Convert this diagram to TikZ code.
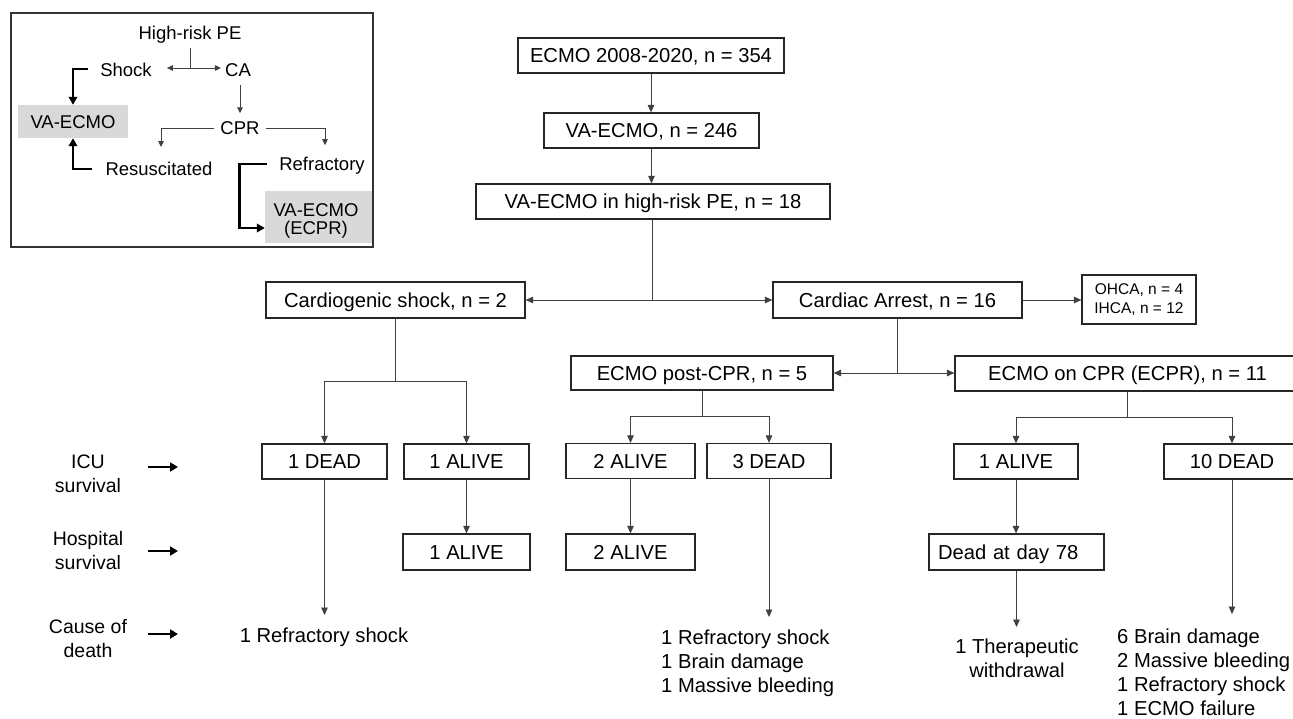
\documentclass[tikz,border=0pt]{standalone}
\usepackage{fontspec}
\setmainfont{Liberation Sans}
\usetikzlibrary{arrows.meta,calc}
\begin{document}
\begin{tikzpicture}[x=1pt,y=-1pt,
  box/.style={draw=black!85, line width=1.2pt, fill=white, inner sep=0pt,
    font=\fontsize{20.2}{24}\selectfont, text height=15pt, text depth=1pt},
  mbox/.style={draw=black!85, line width=1.2pt, fill=white, inner sep=0pt, align=center},
  txt/.style={inner sep=0pt, font=\fontsize{20.2}{24}\selectfont},
  lbl/.style={inner sep=0pt, align=center, font=\fontsize{19.5}{24}\selectfont},
  itxt/.style={inner sep=0pt, font=\fontsize{18.5}{21.5}\selectfont},
  gbox/.style={fill=black!15, inner sep=0pt},
  gtxt/.style={inner sep=0pt, align=center, font=\fontsize{18.5}{18}\selectfont},
  conn/.style={draw=black!75, line width=0.9pt},
  arr/.style={conn, -{Triangle[length=7.5pt,width=6.5pt]}},
  iarr/.style={conn, -{Triangle[length=6pt,width=5.5pt]}},
  thk/.style={draw=black, line width=2.8pt, -{Triangle[length=8pt,width=8.5pt]}},
  labarr/.style={draw=black, line width=2.8pt, -{Triangle[length=8pt,width=9pt]}}
]
\useasboundingbox (0,0) rectangle (1293,718);

% ---------- inset ----------
\node[gbox, minimum width=110pt, minimum height=33pt] (va1) at (73,121.5) {};
\node[gtxt] (va1t) at (73,122) {VA-ECMO};
\node[gbox, minimum width=108pt, minimum height=52pt] (va2) at (319,217) {};
\node[gtxt] (va2t) at (316,221) {VA-ECMO\\(ECPR)};
\draw[black!80, line width=1.4pt] (11,13) rectangle (373,247);
\node[itxt] (hr) at (190,35) {High-risk PE};
\node[itxt] (sh) at (126,70) {Shock};
\node[itxt] (ca) at (238,70) {CA};
\node[itxt] (cpr) at (240,128) {CPR};
\node[itxt] (res) at (159,169) {Resuscitated};
\node[itxt] (ref) at (322,166) {Refractory};
\coordinate (ij) at (190,68);
\draw[conn] ($(hr.south)+(0,4)$) -- (ij);
\draw[iarr] (ij) -- ($(sh.east)+(15,-2)$);
\draw[iarr] (ij) -- ($(ca.west)+(-4,-2)$);
\draw[iarr] ($(ca.south)+(2,8)$) -- ($(ca.south |- cpr.north)+(2,-8)$);
\draw[iarr] ($(cpr.west)+(-6,0)$) -| ($(res.north)+(2,-15)$);
\draw[iarr] ($(cpr.east)+(6,0)$) -| ($(ref.north)+(3,-12)$);
\draw[thk] ($(sh.west)+(-12,-1)$) -| (va1.north);
\draw[thk] ($(res.west)+(-13,0)$) -| (va1.south);
\draw[thk] ($(ref.west)+(-12,-2)$) -- ++(-28,0) |- ($(va2.west)+(0,11)$);

% ---------- main flow ----------
\node[box, minimum width=266pt, minimum height=35pt] (b1) at (651,55.5) {ECMO 2008-2020, n = 354};
\node[box, minimum width=215pt, minimum height=35pt] (b2) at (651.5,130.5) {VA-ECMO, n = 246};
\node[box, minimum width=354pt, minimum height=35pt] (b3) at (653,201.5) {VA-ECMO in high-risk PE, n = 18};
\node[box, minimum width=259pt, minimum height=36pt] (shock) at (395.5,300) {Cardiogenic shock, n = 2};
\node[box, minimum width=249pt, minimum height=36pt] (arrest) at (897.5,300) {Cardiac Arrest, n = 16};
\node[mbox, minimum width=114pt, minimum height=49pt, font=\fontsize{15.5}{19}\selectfont] (ohca) at (1139,299.5) {OHCA, n = 4\\IHCA, n = 12};
\node[box, minimum width=262pt, minimum height=34pt] (post) at (702,373) {ECMO post-CPR, n = 5};
\node[box, minimum width=345pt, minimum height=35pt] (ecpr) at (1127.5,373.5) {ECMO on CPR (ECPR), n = 11};

\node[box, minimum width=125pt, minimum height=35pt] (d1) at (324.5,461.5) {1 DEAD};
\node[box, minimum width=125pt, minimum height=35pt] (a1) at (466.5,461.5) {1 ALIVE};
\node[box, minimum width=129pt, minimum height=35pt] (a2) at (630.5,461) {2 ALIVE};
\node[box, minimum width=124pt, minimum height=35pt] (d3) at (769,461) {3 DEAD};
\node[box, minimum width=124pt, minimum height=35pt] (a3) at (1016,461.5) {1 ALIVE};
\node[box, minimum width=136pt, minimum height=35pt] (d10) at (1232,461.5) {10 DEAD};

\node[box, minimum width=127pt, minimum height=36pt] (h1) at (466.5,552) {1 ALIVE};
\node[box, minimum width=129pt, minimum height=36pt] (h2) at (630.5,552) {2 ALIVE};
\node[box, minimum width=175pt, minimum height=36pt, text width=157pt, align=left] (h3) at (1016.5,552) {Dead at day 78};

\node[txt, anchor=north] (c1) at (324,628) {1 Refractory shock};
\node[txt, anchor=north west, align=left] (c3) at (661,630) {1 Refractory shock\\1 Brain damage\\1 Massive bleeding};
\node[txt, anchor=north, align=center] (c4) at (1017,639) {1 Therapeutic\\withdrawal};
\node[txt, anchor=north west, align=left] (c5) at (1117,629) {6 Brain damage\\2 Massive bleeding\\1 Refractory shock\\1 ECMO failure};

% row labels
\node[lbl] (l1) at (88,474) {ICU\\survival};
\node[lbl] (l2) at (88,551) {Hospital\\survival};
\node[lbl] (l3) at (88,639) {Cause of\\death};
\coordinate (l1a) at (148,467); \coordinate (l1b) at (178,467);
\coordinate (l2a) at (148,551); \coordinate (l2b) at (178,551);
\coordinate (l3a) at (148,634); \coordinate (l3b) at (178,634);
\draw[labarr] (l1a) -- (l1b);
\draw[labarr] (l2a) -- (l2b);
\draw[labarr] (l3a) -- (l3b);

% connectors
\draw[arr] (b1.south) -- (b1.south |- b2.north);
\draw[arr] (b2.south) -- (b2.south |- b3.north);
\coordinate (j1) at (652,300);
\draw[conn] (b3.south -| j1) -- (j1);
\draw[arr] (j1) -- (shock.east);
\draw[arr] (j1) -- (arrest.west);
\draw[arr] (arrest.east) -- (arrest.east -| ohca.west);

\coordinate (j2) at (395.5,381);
\draw[conn] (shock.south) -- (j2);
\draw[arr] (j2) -| (d1.north);
\draw[arr] (j2) -| (a1.north);

\coordinate (j3) at (897.5,373);
\draw[conn] (arrest.south) -- (j3);
\draw[arr] (j3) -- (post.east);
\draw[arr] (j3) -- (j3 -| ecpr.west);

\coordinate (j4) at (702,416);
\draw[conn] (post.south) -- (j4);
\draw[arr] (j4) -| (a2.north);
\draw[arr] (j4) -| (d3.north);

\coordinate (j5) at (1127.5,417);
\draw[conn] (ecpr.south) -- (j5);
\draw[arr] (j5) -| (a3.north);
\draw[arr] (j5) -| (d10.north);

\draw[arr] (a1.south) -- (h1.north);
\draw[arr] (a2.south) -- (h2.north);
\draw[arr] (a3.south) -- (a3.south |- h3.north);

\draw[arr] (d1.south) -- ($(d1.south |- c1.north)+(0,-13)$);
\draw[arr] (d3.south) -- ($(d3.south |- c3.north)+(0,-13)$);
\draw[arr] (h3.south) -- ($(h3.south |- c4.north)+(0,-12)$);
\draw[arr] (d10.south) -- ($(d10.south |- c5.north)+(0,-15)$);
\end{tikzpicture}
\end{document}
